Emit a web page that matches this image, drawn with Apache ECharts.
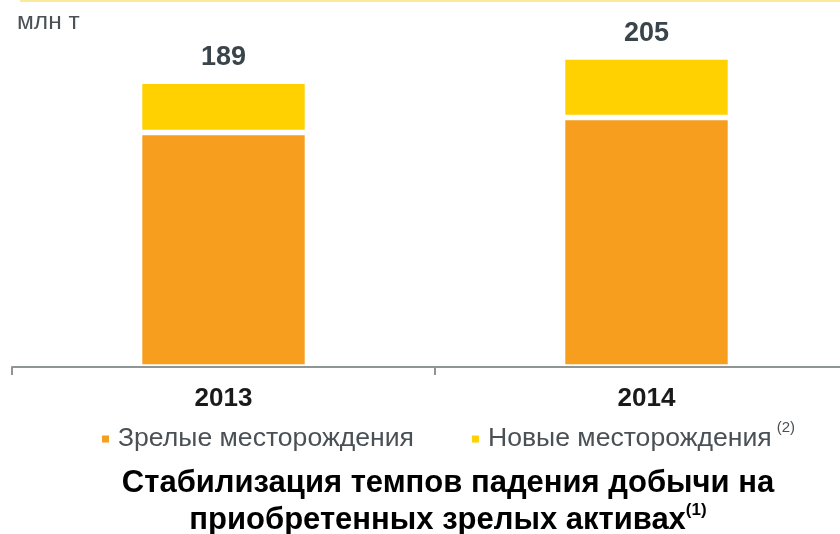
<!DOCTYPE html>
<html>
<head>
<meta charset="utf-8">
<script src="https://cdn.jsdelivr.net/npm/echarts@6/dist/echarts.min.js"></script>
<style>
html,body{margin:0;padding:0;background:#fff;}
#chart{width:840px;height:534px;}
</style>
</head>
<body>
<div id="chart"></div>
<script>
const categories = ['2013', '2014'];
const matureValues = [155, 165];
const newValues = [34, 40];
const seriesNames = ['Зрелые месторождения', 'Новые месторождения'];
const legendNote = '(2)';
const unitLabel = 'млн т';
const titleLine1 = 'Стабилизация темпов падения добычи на';
const titleLine2 = 'приобретенных зрелых активах';
const titleNote = '(1)';

const totals = categories.map((c, i) => matureValues[i] + newValues[i]);
const FONT = 'Liberation Sans, Arial, sans-serif';

const chart = echarts.init(document.getElementById('chart'), null, {renderer: 'canvas'});
chart.setOption({
  animation: false,
  backgroundColor: '#ffffff',
  textStyle: {fontFamily: FONT},
  grid: {left: 12, right: -18, top: 4, bottom: 167, containLabel: false, outerBoundsMode: 'none'},
  xAxis: {
    type: 'category',
    data: categories,
    z: 10,
    axisLine: {lineStyle: {color: '#8f9494', width: 2}},
    axisTick: {show: true, length: 8, lineStyle: {color: '#8f9494', width: 2}},
    axisLabel: {margin: 19, fontSize: 26, fontWeight: 'bold', color: '#1a1a1a', fontFamily: FONT}
  },
  yAxis: {type: 'value', min: 0, max: 240, show: false, splitLine: {show: false}},
  legend: {
    left: 95, top: 415.5,
    itemWidth: 9, itemHeight: 9, itemGap: 56,
    icon: 'rect',
    selectedMode: false,
    data: seriesNames,
    formatter: function (name) {
      return name === seriesNames[1] ? '{n|' + name + '}{s|' + legendNote + '}' : '{n|' + name + '}';
    },
    textStyle: {
      padding: [0, 0, 0, 3],
      rich: {
        n: {fontSize: 26.6, lineHeight: 37, color: '#4a5156', fontFamily: FONT},
        s: {fontSize: 15, lineHeight: 15, color: '#4a5156', verticalAlign: 'top', padding: [0, 0, 0, 5], fontFamily: FONT}
      }
    }
  },
  series: [
    {
      name: seriesNames[0], type: 'bar', stack: 'total', barWidth: 168,
      data: matureValues,
      itemStyle: {color: '#f79e1e', borderColor: '#ffffff', borderWidth: 2.8}
    },
    {
      name: seriesNames[1], type: 'bar', stack: 'total', barWidth: 168,
      data: newValues,
      itemStyle: {color: '#ffd100', borderColor: '#ffffff', borderWidth: 2.8},
      label: {
        show: true, position: 'top', distance: 10,
        formatter: p => String(totals[p.dataIndex]),
        fontSize: 27, fontWeight: 'bold', color: '#3a454b', fontFamily: FONT
      }
    }
  ],
  graphic: [
    {type: 'rect', left: 20, top: 0, shape: {width: 820, height: 2}, style: {fill: '#fde99a'}},
    {type: 'text', x: 17, y: 22, style: {text: unitLabel, fontSize: 24.5, fontFamily: FONT, fill: '#4a5156', verticalAlign: 'middle'}},
    {
      type: 'text', x: 448, y: 502,
      style: {
        text: '{a|' + titleLine1 + '}\n{a|' + titleLine2 + '}{s|' + titleNote + '}',
        align: 'center', verticalAlign: 'middle',
        rich: {
          a: {fontSize: 31, fontWeight: 'bold', lineHeight: 37, fill: '#000000', fontFamily: FONT},
          s: {fontSize: 17, fontWeight: 'bold', lineHeight: 17, fill: '#000000', verticalAlign: 'top', fontFamily: FONT}
        }
      }
    }
  ]
});
</script>
</body>
</html>
